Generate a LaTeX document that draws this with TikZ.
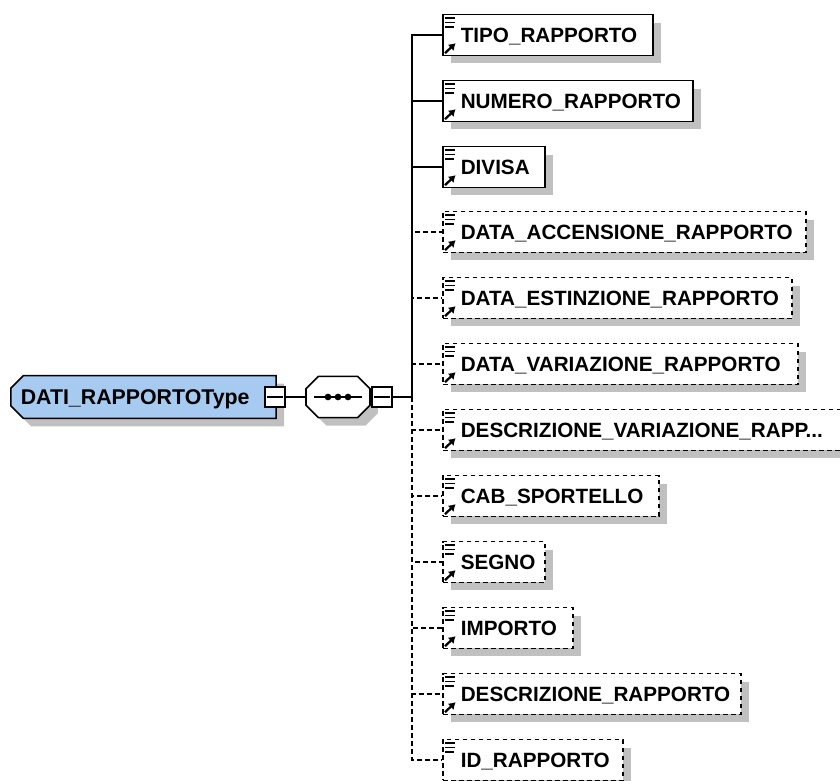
\documentclass[tikz,border=0pt]{standalone}
\usepackage{fontspec}
\setmainfont{Liberation Sans}
\usetikzlibrary{positioning,shapes,shapes.misc,shadows,arrows.meta}
\definecolor{typeblue}{HTML}{A6CAF0}
\definecolor{shadowgray}{HTML}{C0C0C0}
\tikzset{
    boxshadow/.style={drop shadow={shadow xshift=6pt, shadow yshift=-6pt, fill=shadowgray, opacity=1}},
    elem/.style={draw, line width=1.2pt, fill=white, boxshadow, anchor=west, minimum height=30.5pt,
        inner xsep=13.5pt, inner ysep=0pt, text width=#1, align=left, text height=11pt, text depth=0.2pt,
        font=\fontsize{15.5}{15.5}\selectfont\bfseries},
    optelem/.style={elem=#1, dash pattern=on 3.6pt off 2.4pt},
    minusbox/.style={draw, line width=1.2pt, fill=white, minimum size=15pt, inner sep=0pt},
    seqdot/.style={circle, fill=black, inner sep=0pt, minimum size=5pt},
    wire/.style={line width=1.2pt},
    optwire/.style={line width=1.2pt, dash pattern=on 3.6pt off 2.4pt}
}
\newcommand{\elemlines}[1]{
    \draw[line width=1pt] ([xshift=2.25pt,yshift=-3pt]#1.north west) -- ++(7.5pt,0);
    \draw[line width=1pt] ([xshift=2.25pt,yshift=-6.5pt]#1.north west) -- ++(7.5pt,0);
    \draw[line width=1pt] ([xshift=2.25pt,yshift=-9.75pt]#1.north west) -- ++(6.5pt,0);
}
\newcommand{\elemarrow}[1]{
    \draw[-{Latex[length=5pt,width=6.5pt]}, line width=1.7pt] ([xshift=2.25pt,yshift=2.25pt]#1.south west) -- ++(8pt,7.5pt);
}
\begin{document}
\begin{tikzpicture}[x=0.75pt, y=-0.75pt]
    \useasboundingbox (0,0) rectangle (840,781);

    \node[draw, line width=1.2pt, fill=typeblue, boxshadow, chamfered rectangle, chamfered rectangle corners={north west,south west},
        chamfered rectangle xsep=7.5pt, chamfered rectangle ysep=3.75pt, anchor=west, minimum width=199pt, minimum height=32pt,
        inner xsep=0pt, inner ysep=0pt, text width=184pt, align=left, text height=11pt, text depth=0.2pt,
        font=\fontsize{16}{16}\selectfont\bfseries] (DatiType) at (10,397) {DATI\_RAPPORTOType};
    \node[minusbox] (TypeMinus) at (275,397) {};
    \draw[line width=0.9pt] ([xshift=2pt]TypeMinus.west) -- ([xshift=-2pt]TypeMinus.east);

    \node[draw, line width=1.2pt, fill=white, boxshadow, chamfered rectangle,
        chamfered rectangle corners={north west,north east,south west,south east}, chamfered rectangle xsep=7.5pt, chamfered rectangle ysep=3.75pt,
        inner xsep=0pt, inner ysep=0pt, text width=36.75pt, text height=11pt, text depth=0.2pt, minimum height=31pt] (Seq) at (338,397) {\phantom{x}};
    \node[seqdot] (SeqA) at (328,397) {};
    \node[seqdot] (SeqB) at (338,397) {};
    \node[seqdot] (SeqC) at (348,397) {};
    \coordinate (SeqIn) at (314,397);
    \coordinate (SeqOut) at (362,397);
    \draw[line width=0.9pt] (SeqIn) -- (SeqOut);
    \node[minusbox] (SeqMinus) at (382,397) {};
    \draw[line width=0.9pt] ([xshift=2pt]SeqMinus.west) -- ([xshift=-2pt]SeqMinus.east);

    \coordinate (Bus) at (412,397);
    \node[elem=130.5pt] (E1) at (442,35) {TIPO\_RAPPORTO};
    \node[elem=160.5pt] (E2) at (442,101) {NUMERO\_RAPPORTO};
    \node[elem=49.5pt] (E3) at (442,167) {DIVISA};
    \node[optelem=245.25pt] (E4) at (442,232) {DATA\_ACCENSIONE\_RAPPORTO};
    \node[optelem=234.75pt] (E5) at (442,298) {DATA\_ESTINZIONE\_RAPPORTO};
    \node[optelem=239.25pt] (E6) at (442,364) {DATA\_VARIAZIONE\_RAPPORTO};
    \node[optelem=275.25pt] (E7) at (442,430) {DESCRIZIONE\_VARIAZIONE\_RAPP...};
    \node[optelem=135pt] (E8) at (442,496) {CAB\_SPORTELLO};
    \node[optelem=49.5pt] (E9) at (442,562) {SEGNO};
    \node[optelem=70.5pt] (E10) at (442,628) {IMPORTO};
    \node[optelem=196.5pt] (E11) at (442,694) {DESCRIZIONE\_RAPPORTO};
    \node[optelem=108pt] (E12) at (442,760) {ID\_RAPPORTO};

    \draw[wire] (TypeMinus) -- (Seq);
    \draw[wire] (SeqMinus) -- (Bus);
    \draw[wire] (Bus) |- (E1);
    \draw[wire] (Bus) |- (E2);
    \draw[wire] (Bus) |- (E3);
    \draw[optwire] (Bus) |- (E4);
    \draw[optwire] (Bus) |- (E5);
    \draw[optwire] (Bus) |- (E6);
    \draw[optwire] (Bus) |- (E7);
    \draw[optwire] (Bus) |- (E8);
    \draw[optwire] (Bus) |- (E9);
    \draw[optwire] (Bus) |- (E10);
    \draw[optwire] (Bus) |- (E11);
    \draw[optwire] (Bus) |- (E12);

    \elemlines{E1} \elemarrow{E1}
    \elemlines{E2} \elemarrow{E2}
    \elemlines{E3} \elemarrow{E3}
    \elemlines{E4} \elemarrow{E4}
    \elemlines{E5} \elemarrow{E5}
    \elemlines{E6} \elemarrow{E6}
    \elemlines{E7} \elemarrow{E7}
    \elemlines{E8} \elemarrow{E8}
    \elemlines{E9} \elemarrow{E9}
    \elemlines{E10} \elemarrow{E10}
    \elemlines{E11} \elemarrow{E11}
    \elemlines{E12}
\end{tikzpicture}
\end{document}
